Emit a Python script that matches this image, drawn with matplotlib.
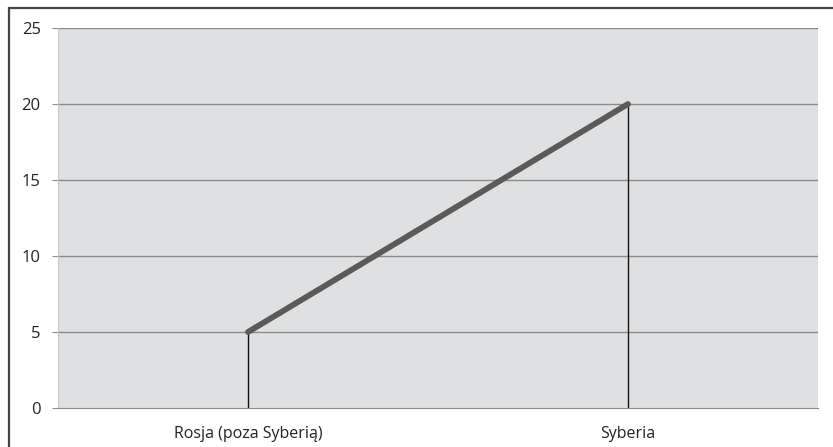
import matplotlib.pyplot as plt
from matplotlib.patches import Rectangle

categories = ["Rosja (poza Syberią)", "Syberia"]
values = [5, 20]
yticks = [0, 5, 10, 15, 20, 25]

plt.rcParams['font.family'] = ['Open Sans', 'DejaVu Sans']

fig = plt.figure(figsize=(8.33, 4.47), dpi=100)
W, H = 833, 447
ax = fig.add_axes([58 / W, 1 - 408 / H, 760 / W, 380 / H])
ax.set_facecolor('#dfe0e2')

x = list(range(len(categories)))
ax.set_xlim(-0.5, len(categories) - 0.5)
ax.set_ylim(0, 25)

for v in yticks[1:]:
    ax.axhline(v, color='#8a8a8a', lw=1.0, zorder=1)

# drop lines
ax.vlines(x, 0, values, color='#111111', lw=1.0, zorder=2)
ax.plot(x, values, color='#5a5a5a', lw=4.2, solid_capstyle='round', zorder=3)

ax.set_xticks(x)
ax.set_xticklabels(categories, fontsize=11.5, color='#222222')
ax.set_yticks(yticks)
ax.tick_params(axis='y', length=4, color='#8a8a8a', labelsize=12, pad=8.5,
               labelcolor='#222222')
ax.tick_params(axis='x', length=0, pad=13)

for s in ['top', 'right']:
    ax.spines[s].set_visible(False)
ax.spines['left'].set_color('#c8c8c8')
ax.spines['bottom'].set_color('#8a8a8a')

# outer frame
fig.patches.append(Rectangle((9 / W, -0.1), 1.2, 1 - 8 / H + 0.1, transform=fig.transFigure,
                             fill=False, ec='#444444', lw=1.6))

fig.savefig('out.png', dpi=100)
